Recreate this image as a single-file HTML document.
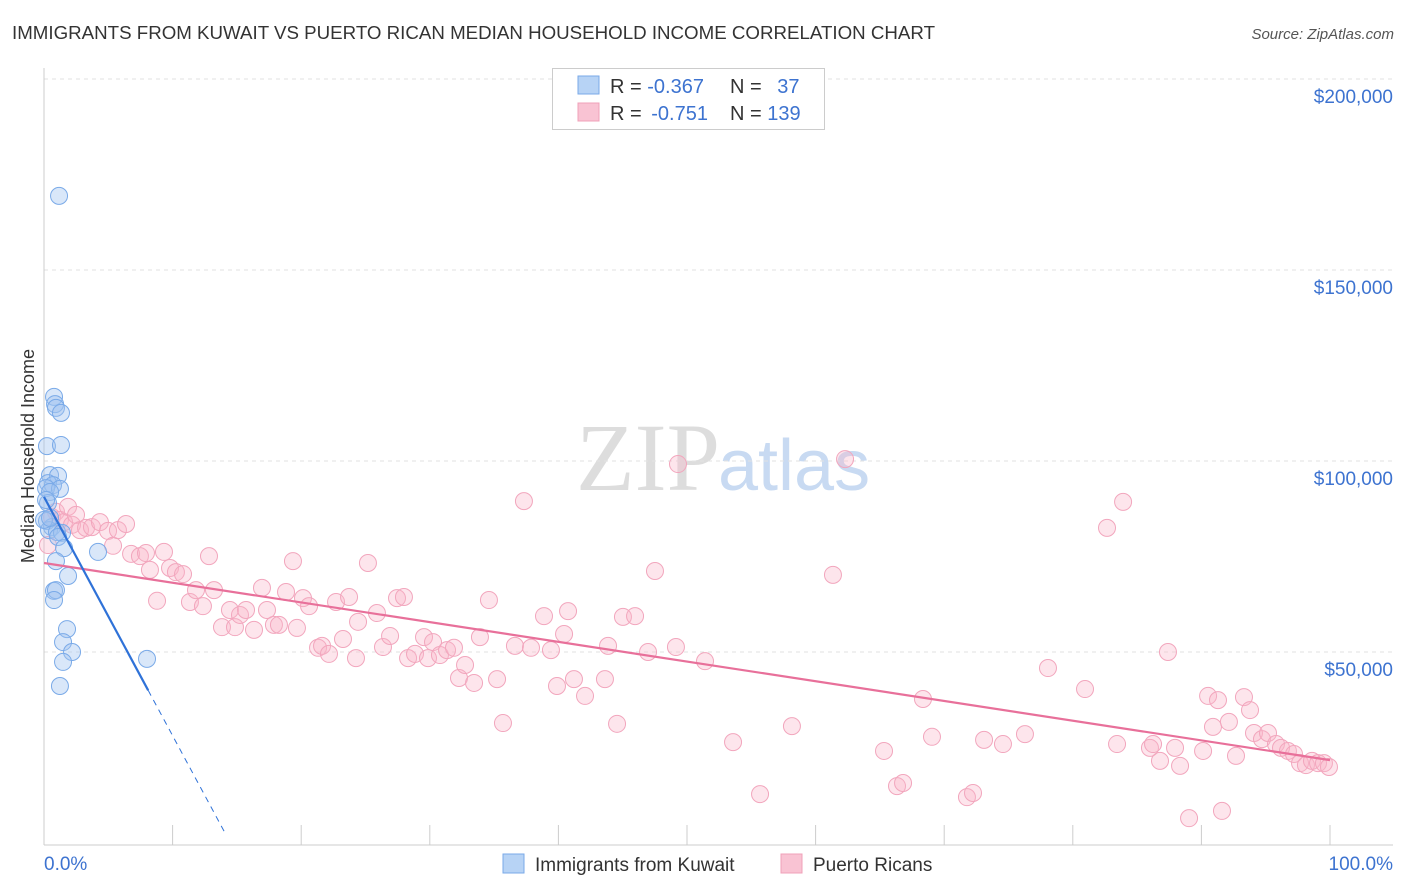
<!DOCTYPE html>
<html><head><meta charset="utf-8"><style>
body{margin:0;background:#fff;font-family:"Liberation Sans",sans-serif;}
svg{display:block}
</style></head><body>
<svg id="chart" width="1406" height="892" xmlns="http://www.w3.org/2000/svg">
<text x="12" y="39" font-size="18" fill="#333" textLength="923" lengthAdjust="spacingAndGlyphs">IMMIGRANTS FROM KUWAIT VS PUERTO RICAN MEDIAN HOUSEHOLD INCOME CORRELATION CHART</text>
<text x="1394" y="39" font-size="15" fill="#555" font-style="italic" text-anchor="end">Source: ZipAtlas.com</text>
<text x="720" y="490" font-size="96" fill="#ddd" text-anchor="end" font-family="Liberation Serif,serif">ZIP</text>
<text x="718" y="490" font-size="72" fill="#c8daf2">atlas</text>
<g id="grid"></g>
<g id="axes"></g>
<text transform="translate(34,456) rotate(-90)" font-size="18" fill="#333" text-anchor="middle">Median Household Income</text>
<g id="marks"></g>
<g>
<rect x="552.5" y="68.5" width="272" height="61" fill="#fff" stroke="#ccc"/>
<rect x="578" y="76" width="21" height="18" fill="#b7d3f5" stroke="#7aaae8"/>
<rect x="578" y="103" width="21" height="18" fill="#f9c3d3" stroke="#f0a0b8"/>
<text x="610" y="93" font-size="20" fill="#333">R = <tspan fill="#3d73d0">-0.367</tspan></text>
<text x="730" y="93" font-size="20" fill="#333">N = <tspan fill="#3d73d0" dx="10">37</tspan></text>
<text x="610" y="120" font-size="20" fill="#333">R = <tspan fill="#3d73d0" dx="4">-0.751</tspan></text>
<text x="730" y="120" font-size="20" fill="#333">N = <tspan fill="#3d73d0">139</tspan></text>
</g>
<g>
<rect x="503" y="854" width="21" height="19" fill="#b7d3f5" stroke="#7aaae8"/>
<text x="535" y="871" font-size="19" fill="#333">Immigrants from Kuwait</text>
<rect x="781" y="854" width="21" height="19" fill="#f9c3d3" stroke="#f0a0b8"/>
<text x="813" y="871" font-size="19" fill="#333">Puerto Ricans</text>
</g>
</svg>
<script>
const yTicks=[50000,100000,150000,200000];
const yTickLabels=["$50,000","$100,000","$150,000","$200,000"];
const blueX=[1.17,0.78,0.86,0.93,1.32,0.23,1.32,0.47,1.09,0.31,0.70,0.16,1.24,0.47,0.31,0.23,0.62,0.39,1.01,1.40,1.09,1.56,4.20,0.93,1.87,0.78,0.93,0.78,1.79,1.48,2.18,1.48,8.01,1.24,0,0.47,0.16];
const blueY=[169.4,116.8,114.9,113.9,112.6,103.9,104.2,96.3,96.1,94.2,93.7,92.9,92.7,91.9,89.0,84.3,82.7,81.9,81.4,81.2,80.1,77.2,76.2,73.8,69.9,66.0,66.2,63.6,56.0,52.6,50.0,47.4,48.2,41.1,84.6,85.1,89.8];
const pinkX=[0.31,0.62,0.93,1.24,1.56,1.87,2.18,2.49,2.80,3.27,3.73,4.35,4.98,5.37,5.75,6.38,6.77,7.46,7.93,8.24,8.79,9.33,9.80,10.26,10.81,11.35,11.82,12.36,12.83,13.22,13.84,14.46,14.85,15.24,15.71,16.33,16.95,17.34,17.88,18.27,18.82,19.36,19.67,20.14,20.61,21.31,21.62,22.16,22.71,23.25,23.72,24.26,24.42,25.19,25.89,26.36,26.91,27.45,27.99,28.31,28.85,29.55,29.86,30.25,30.79,31.34,31.88,32.27,32.74,33.44,33.90,34.60,35.23,35.69,36.62,37.32,37.87,38.88,39.42,39.89,40.44,40.75,41.21,42.07,43.62,43.86,44.56,45.02,45.96,46.97,47.51,49.14,49.30,51.40,53.58,55.68,58.16,61.35,62.29,65.32,66.33,66.80,68.35,69.05,71.77,72.24,73.10,74.57,76.28,78.07,80.95,82.66,83.44,83.91,86.0,86.24,86.78,87.40,87.95,88.34,89.04,90.13,90.52,90.90,91.29,91.60,92.14,92.69,93.31,93.78,94.09,94.71,95.18,95.80,96.19,96.73,97.20,97.67,98.13,98.60,99.07,99.53,99.92];
const pinkY=[78.0,85.3,86.7,84.6,84.0,88.0,83.3,85.9,81.9,82.5,82.7,84.0,81.7,77.8,81.9,83.5,75.7,75.1,75.9,71.5,63.4,76.2,72.0,70.9,70.4,63.1,66.2,62.0,75.1,66.2,56.5,61.0,56.5,59.7,61.0,55.8,66.8,61.0,57.1,57.1,65.7,73.8,56.3,64.1,62.0,51.1,51.6,49.5,63.1,53.4,64.4,48.4,57.9,73.3,60.2,51.3,54.2,64.1,64.4,48.4,49.5,53.9,48.4,52.6,49.2,50.5,51.1,43.2,46.6,41.9,53.9,63.6,42.9,31.4,51.6,89.5,51.1,59.4,50.5,41.1,54.7,60.7,42.9,38.5,42.9,51.6,31.2,59.2,59.4,50.0,71.2,51.3,99.2,47.6,26.4,12.8,30.6,70.2,100.5,24.1,14.9,15.7,37.7,27.8,12.0,13.1,27.0,25.9,28.5,45.8,40.3,82.5,25.9,89.3,24.9,25.9,21.5,50.0,24.9,20.2,6.5,24.1,38.5,30.4,37.4,8.4,31.7,22.8,38.2,34.8,28.8,27.2,28.8,25.9,24.9,24.1,23.3,20.9,20.4,21.5,20.9,20.9,19.9];
const blueTrend=[90.6,-6.25];
const pinkTrend=[73.3,-0.516];
const NS="http://www.w3.org/2000/svg";
const sx=p=>44+p*12.86;
const sy=v=>843-v/50000*191;
const syk=k=>sy(k*1000);
function mk(t,a,parent){const e=document.createElementNS(NS,t);for(const k in a)e.setAttribute(k,a[k]);parent.appendChild(e);return e;}
const grid=document.getElementById('grid'),axes=document.getElementById('axes'),marks=document.getElementById('marks');
yTicks.forEach((v,i)=>{
 const l=mk('line',{x1:44,x2:1393,y1:sy(v),y2:sy(v),stroke:'#e2e2e2','stroke-dasharray':'4,4'},grid);
 
 
 const t=mk('text',{x:1393,y:sy(v)+24,'text-anchor':'end','font-size':19,fill:'#3d73d0'},axes);
 t.textContent=yTickLabels[i];
 
 
});
mk('line',{x1:44,x2:44,y1:68,y2:845,stroke:'#ccc'},axes);
mk('line',{x1:44,x2:1393,y1:845,y2:845,stroke:'#ccc'},axes);
for(let i=1;i<=10;i++){const tk=mk('line',{x1:sx(i*10),x2:sx(i*10),y1:825,y2:845,stroke:'#ccc'},axes);}
let t0=mk('text',{x:44,y:870,'font-size':19,fill:'#3d73d0'},axes);t0.textContent='0.0%';


let t1=mk('text',{x:1393,y:870,'font-size':19,fill:'#3d73d0','text-anchor':'end'},axes);t1.textContent='100.0%';


pinkX.forEach((x,i)=>{const c=mk('circle',{cx:sx(x),cy:syk(pinkY[i]),r:8.5,fill:'rgba(248,180,200,0.35)',stroke:'#f2a6bd','stroke-width':1},marks);
 
 });
blueX.forEach((x,i)=>{const c=mk('circle',{cx:sx(x),cy:syk(blueY[i]),r:8.5,fill:'rgba(160,196,240,0.4)',stroke:'#7aaae8','stroke-width':1},marks);
 
 });
const pl=mk('line',{x1:sx(0),y1:syk(pinkTrend[0]),x2:sx(100),y2:syk(pinkTrend[0]+pinkTrend[1]*100),stroke:'#e8709a','stroke-width':2.2},marks);


const bl=mk('line',{x1:sx(0),y1:syk(blueTrend[0]),x2:sx(8.1),y2:syk(blueTrend[0]+blueTrend[1]*8.1),stroke:'#2f72d8','stroke-width':2.2},marks);


const bd=mk('line',{x1:sx(8.1),y1:syk(blueTrend[0]+blueTrend[1]*8.1),x2:sx(14.1),y2:syk(blueTrend[0]+blueTrend[1]*14.1),stroke:'#2f72d8','stroke-width':1,'stroke-dasharray':'6,5'},marks);


</script>
</body></html>
